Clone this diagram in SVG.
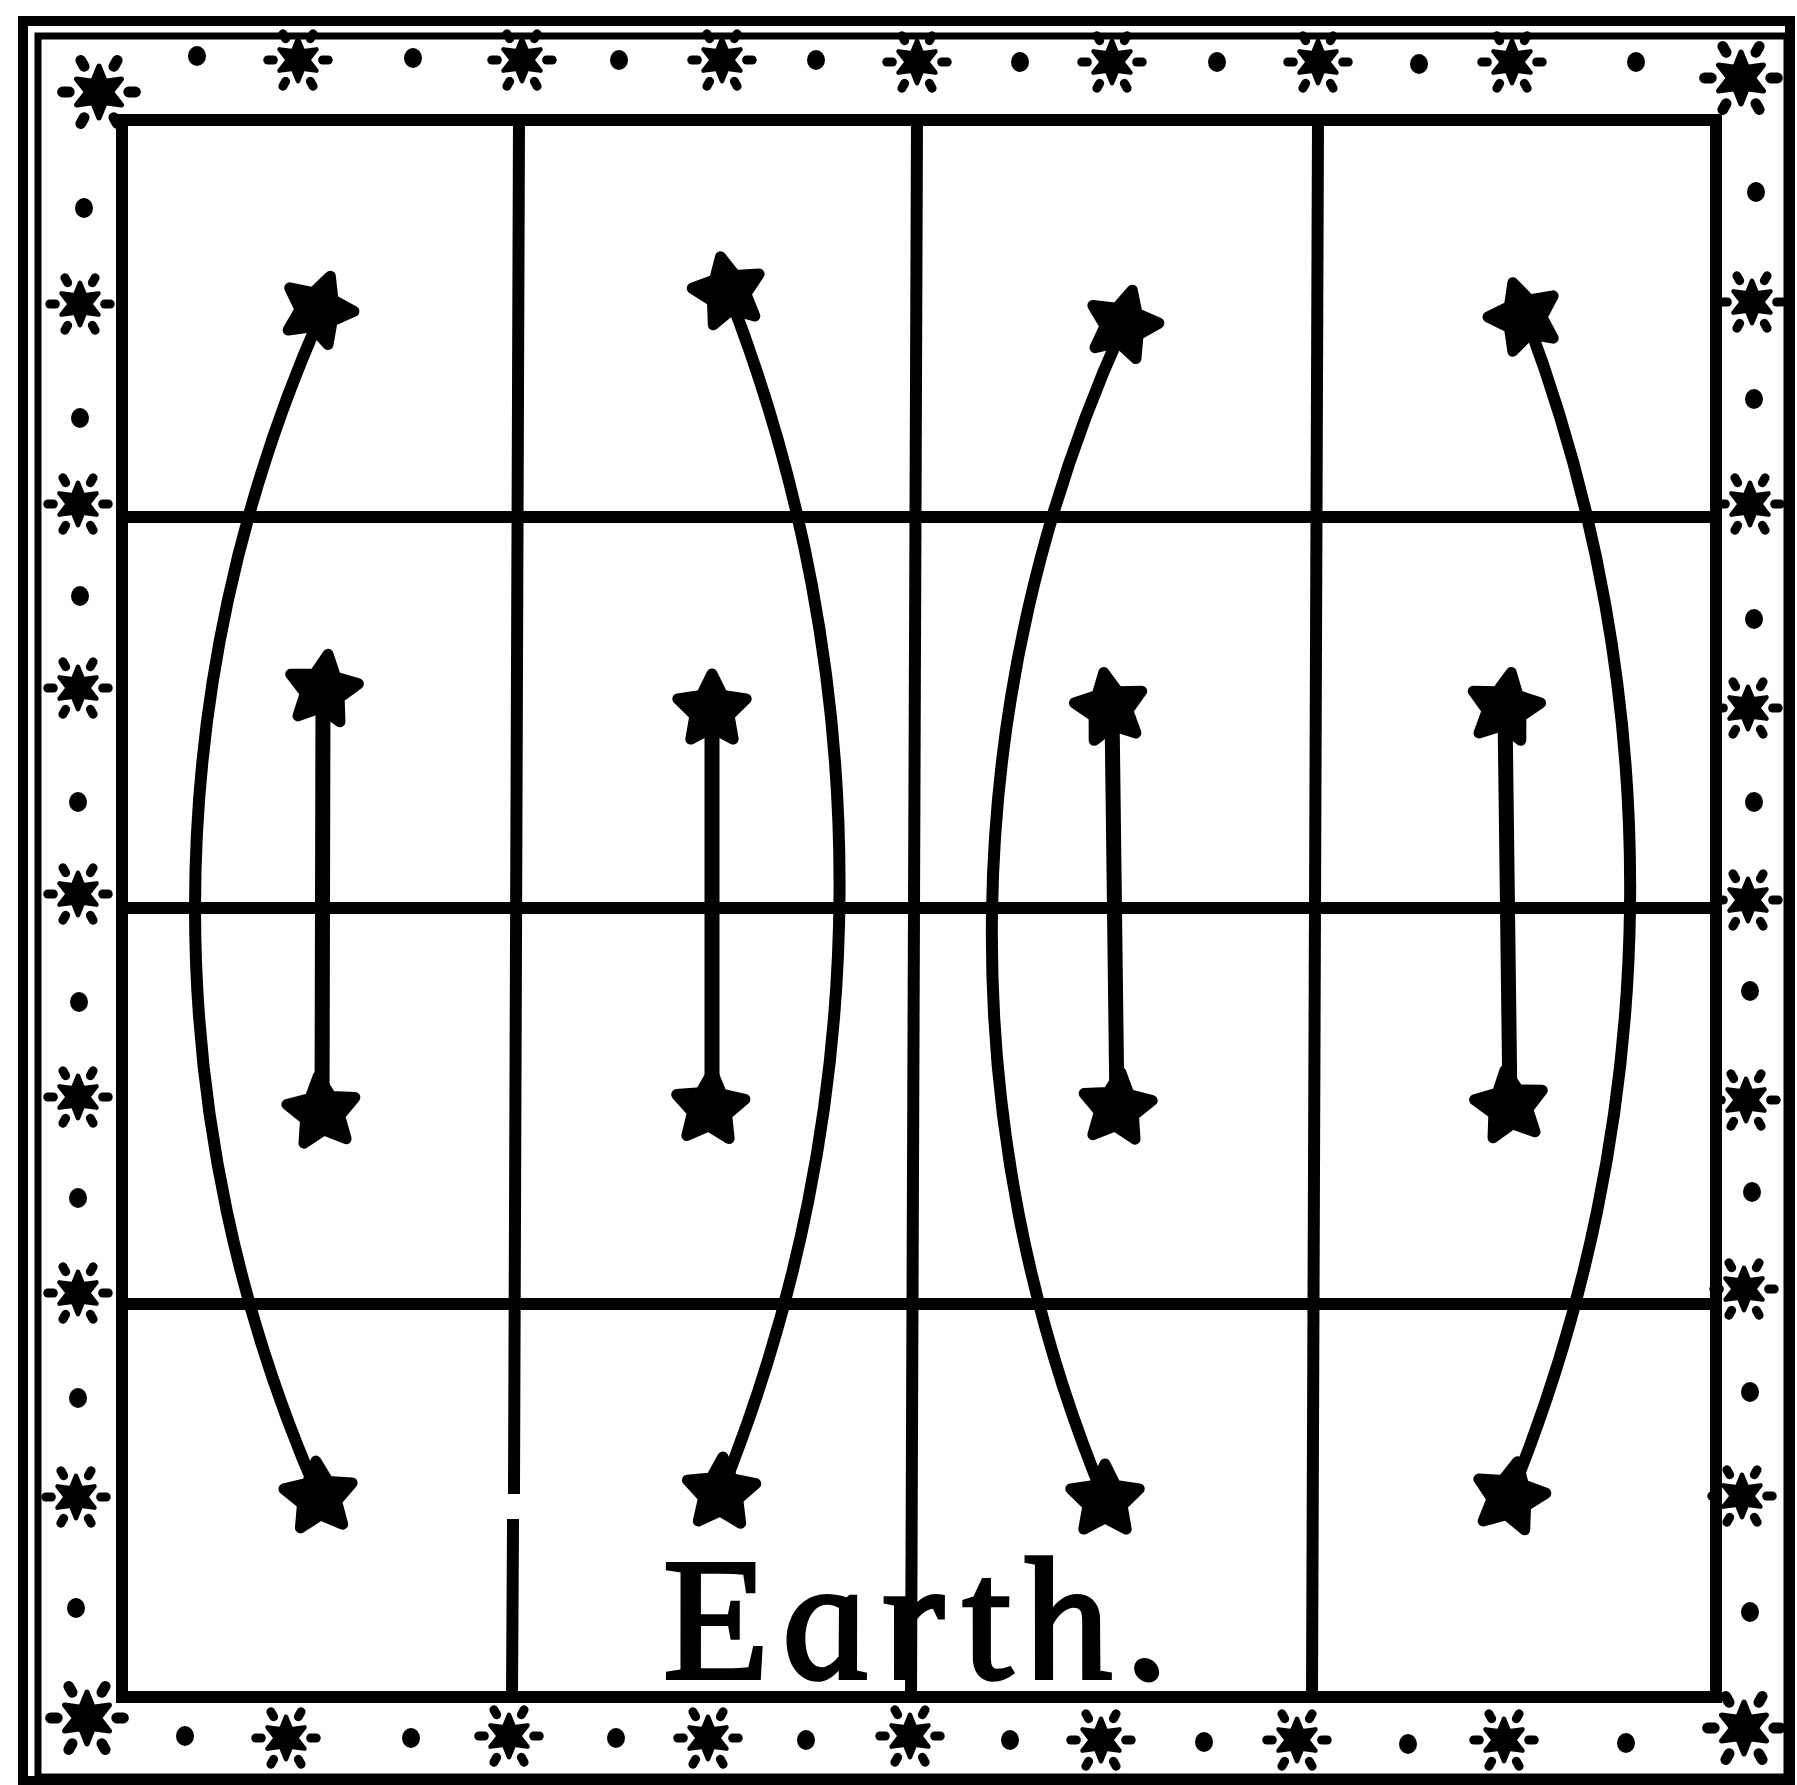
<svg xmlns="http://www.w3.org/2000/svg" xmlns:xlink="http://www.w3.org/1999/xlink" width="1797" height="1785" viewBox="0 0 1797 1785">
<style>
.frame{fill:none;stroke:#000;}
.grid{fill:none;stroke:#000;stroke-width:12;stroke-linecap:square;}
.arc{fill:none;stroke:#000;stroke-width:12;stroke-linecap:round;}
.rod{fill:none;stroke:#000;stroke-width:15;stroke-linecap:round;}
.star{fill:#000;stroke:#000;stroke-width:11;stroke-linejoin:round;}
.dot{fill:#000;}
.label{font-family:"Liberation Serif","DejaVu Serif",serif;font-style:italic;font-size:174px;fill:#000;stroke:#000;stroke-width:4;}
</style>
<defs>
<path id="star5" d="M0,-36 L10.6,-14.6 L34.2,-11.1 L17.1,5.6 L21.2,29.1 L0,18 L-21.2,29.1 L-17.1,5.6 L-34.2,-11.1 L-10.6,-14.6 Z"/>
<g id="ast0">
<path d="M0,-19 L4.5,-7.8 L16.5,-9.5 L9,0 L16.5,9.5 L4.5,7.8 L0,19 L-4.5,7.8 L-16.5,9.5 L-9,0 L-16.5,-9.5 L-4.5,-7.8 Z" fill="#000" stroke="#000" stroke-width="4" stroke-linejoin="round"/>
<circle r="10" fill="#000"/>
<g stroke="#000" stroke-width="8" stroke-linecap="round">
<line x1="11" y1="-19" x2="13.5" y2="-23.4"/>
<line x1="22" y1="0" x2="27" y2="0"/>
<line x1="11" y1="19" x2="13.5" y2="23.4"/>
<line x1="-11" y1="19" x2="-13.5" y2="23.4"/>
<line x1="-22" y1="0" x2="-27" y2="0"/>
<line x1="-11" y1="-19" x2="-13.5" y2="-23.4"/>
</g>
</g>
<use id="ast" xlink:href="#ast0" transform="scale(1.12)"/>
</defs>
<rect width="1797" height="1785" fill="#fff"/>

<g id="frame">
<rect class="frame" x="23" y="21" width="1767" height="1760" stroke-width="10"/>
<path class="frame" d="M38,1777 V36 H1787 V1777 H38" stroke-width="7"/>
</g>

<g id="border">
<g id="border-top">
<ellipse class="dot" cx="197" cy="56" rx="9" ry="10"/>
<use xlink:href="#ast" x="298" y="60"/>
<ellipse class="dot" cx="413" cy="58" rx="9" ry="10"/>
<use xlink:href="#ast" x="522" y="60"/>
<ellipse class="dot" cx="619" cy="60" rx="9" ry="10"/>
<use xlink:href="#ast" x="722" y="60"/>
<ellipse class="dot" cx="816" cy="60" rx="9" ry="10"/>
<use xlink:href="#ast" x="917" y="62"/>
<ellipse class="dot" cx="1020" cy="62" rx="9" ry="10"/>
<use xlink:href="#ast" x="1112" y="62"/>
<ellipse class="dot" cx="1217" cy="62" rx="9" ry="10"/>
<use xlink:href="#ast" x="1318" y="62"/>
<ellipse class="dot" cx="1419" cy="64" rx="9" ry="10"/>
<use xlink:href="#ast" x="1512" y="62"/>
<ellipse class="dot" cx="1636" cy="62" rx="9" ry="10"/>
</g>
<g id="border-left">
<ellipse class="dot" cx="84" cy="208" rx="9" ry="10"/>
<use xlink:href="#ast" x="80" y="304"/>
<ellipse class="dot" cx="80" cy="418" rx="9" ry="10"/>
<use xlink:href="#ast" x="78" y="504"/>
<ellipse class="dot" cx="80" cy="596" rx="9" ry="10"/>
<use xlink:href="#ast" x="78" y="688"/>
<ellipse class="dot" cx="78" cy="802" rx="9" ry="10"/>
<use xlink:href="#ast" x="78" y="894"/>
<ellipse class="dot" cx="79" cy="1002" rx="9" ry="10"/>
<use xlink:href="#ast" x="78" y="1097"/>
<ellipse class="dot" cx="78" cy="1198" rx="9" ry="10"/>
<use xlink:href="#ast" x="78" y="1293"/>
<ellipse class="dot" cx="78" cy="1398" rx="9" ry="10"/>
<use xlink:href="#ast" x="76" y="1497"/>
<ellipse class="dot" cx="76" cy="1608" rx="9" ry="10"/>
</g>
<g id="border-right">
<ellipse class="dot" cx="1756" cy="192" rx="9" ry="10"/>
<use xlink:href="#ast" x="1752" y="302"/>
<ellipse class="dot" cx="1754" cy="399" rx="9" ry="10"/>
<use xlink:href="#ast" x="1750" y="504"/>
<ellipse class="dot" cx="1754" cy="619" rx="9" ry="10"/>
<use xlink:href="#ast" x="1748" y="708"/>
<ellipse class="dot" cx="1754" cy="802" rx="9" ry="10"/>
<use xlink:href="#ast" x="1748" y="900"/>
<ellipse class="dot" cx="1750" cy="991" rx="9" ry="10"/>
<use xlink:href="#ast" x="1746" y="1100"/>
<ellipse class="dot" cx="1752" cy="1192" rx="9" ry="10"/>
<use xlink:href="#ast" x="1744" y="1289"/>
<ellipse class="dot" cx="1750" cy="1392" rx="9" ry="10"/>
<use xlink:href="#ast" x="1742" y="1496"/>
<ellipse class="dot" cx="1750" cy="1612" rx="9" ry="10"/>
</g>
<g id="border-bottom">
<ellipse class="dot" cx="185" cy="1736" rx="9" ry="10"/>
<use xlink:href="#ast" x="286" y="1738"/>
<ellipse class="dot" cx="411" cy="1738" rx="9" ry="10"/>
<use xlink:href="#ast" x="509" y="1736"/>
<ellipse class="dot" cx="616" cy="1738" rx="9" ry="10"/>
<use xlink:href="#ast" x="708" y="1738"/>
<ellipse class="dot" cx="806" cy="1740" rx="9" ry="10"/>
<use xlink:href="#ast" x="910" y="1736"/>
<ellipse class="dot" cx="1010" cy="1740" rx="9" ry="10"/>
<use xlink:href="#ast" x="1101" y="1740"/>
<ellipse class="dot" cx="1204" cy="1742" rx="9" ry="10"/>
<use xlink:href="#ast" x="1297" y="1740"/>
<ellipse class="dot" cx="1408" cy="1744" rx="9" ry="10"/>
<use xlink:href="#ast" x="1504" y="1740"/>
<ellipse class="dot" cx="1626" cy="1743" rx="9" ry="10"/>
</g>
<g id="border-corners">
<use xlink:href="#ast0" transform="translate(99,92) scale(1.35)"/>
<use xlink:href="#ast0" transform="translate(1741,78) scale(1.35)"/>
<use xlink:href="#ast0" transform="translate(87,1718) scale(1.35)"/>
<use xlink:href="#ast0" transform="translate(1744,1728) scale(1.35)"/>
</g>
</g>

<g id="grid">
<rect class="grid" x="122" y="120" width="1594" height="1577"/>
<path class="grid" d="M519,120 L514,1488 M513,1525 L512,1697"/>
<path class="grid" d="M917,120 L911,1697"/>
<path class="grid" d="M1318,120 L1312,1697"/>
<path class="grid" d="M122,517 H1716 M122,908 H1716 M122,1304 H1716"/>
</g>

<g id="connectors">
<path class="arc" d="M321,315 A1460,1460 0 0 0 319,1497"/>
<path class="arc" d="M728,292 A1625,1625 0 0 1 721,1493"/>
<path class="arc" d="M1123,327 A1471,1471 0 0 0 1105,1500"/>
<path class="arc" d="M1526,317 A1610,1610 0 0 1 1510,1497"/>
<path class="rod" d="M323,693 L322,1114"/>
<path class="rod" d="M712,710 L712,1110"/>
<path class="rod" d="M1112,711 L1117,1109"/>
<path class="rod" d="M1505,711 L1510,1106"/>
</g>

<g id="node-c1-outer-top"><use xlink:href="#star5" class="star" transform="translate(318,310) rotate(20)"/></g>
<g id="node-c1-outer-bottom"><use xlink:href="#star5" class="star" transform="translate(319,1497) rotate(-5)"/></g>
<g id="node-c1-inner-top"><use xlink:href="#star5" class="star" transform="translate(323,690) rotate(8)"/></g>
<g id="node-c1-inner-bottom"><use xlink:href="#star5" class="star" transform="translate(322,1112) rotate(-6)"/></g>
<g id="node-c2-outer-top"><use xlink:href="#star5" class="star" transform="translate(728,292) rotate(-12)"/></g>
<g id="node-c2-outer-bottom"><use xlink:href="#star5" class="star" transform="translate(721,1493) rotate(3)"/></g>
<g id="node-c2-inner-top"><use xlink:href="#star5" class="star" transform="translate(712,710) rotate(0)"/></g>
<g id="node-c2-inner-bottom"><use xlink:href="#star5" class="star" transform="translate(710,1108) rotate(4)"/></g>
<g id="node-c3-outer-top"><use xlink:href="#star5" class="star" transform="translate(1123,325) rotate(15)"/></g>
<g id="node-c3-outer-bottom"><use xlink:href="#star5" class="star" transform="translate(1105,1500) rotate(0)"/></g>
<g id="node-c3-inner-top"><use xlink:href="#star5" class="star" transform="translate(1110,708) rotate(-10)"/></g>
<g id="node-c3-inner-bottom"><use xlink:href="#star5" class="star" transform="translate(1117,1108) rotate(6)"/></g>
<g id="node-c4-outer-top"><use xlink:href="#star5" class="star" transform="translate(1524,317) rotate(-18)"/></g>
<g id="node-c4-outer-bottom"><use xlink:href="#star5" class="star" transform="translate(1510,1497) rotate(12)"/></g>
<g id="node-c4-inner-top"><use xlink:href="#star5" class="star" transform="translate(1505,708) rotate(10)"/></g>
<g id="node-c4-inner-bottom"><use xlink:href="#star5" class="star" transform="translate(1510,1106) rotate(-8)"/></g>

<g id="label">
<text class="label" transform="translate(670,1678) skewX(10)" x="0" y="0" textLength="504" lengthAdjust="spacing">Earth.</text>
</g>
</svg>
